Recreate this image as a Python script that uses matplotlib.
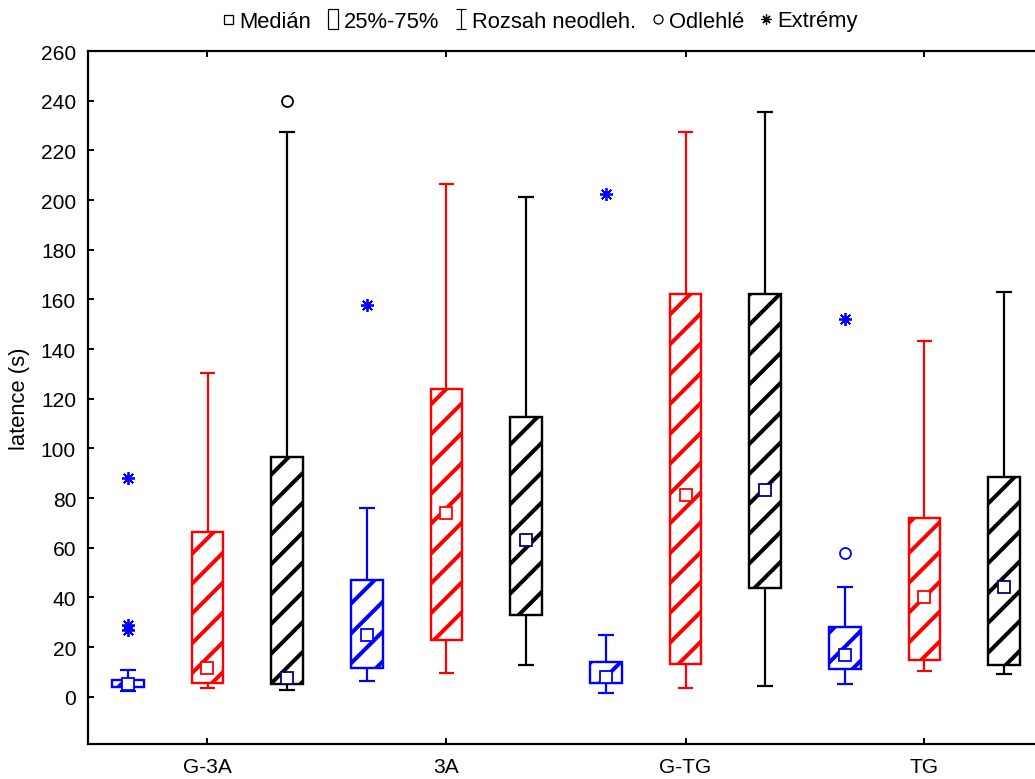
import matplotlib
matplotlib.use("Agg")
import matplotlib.pyplot as plt
from matplotlib.patches import Rectangle
from matplotlib.lines import Line2D
from matplotlib.path import Path

# ---------------- data ----------------
groups = ["G-3A", "3A", "G-TG", "TG"]
series_colors = ["#0000FF", "#FF0000", "#000000"]
median_edge = ["#0000FF", "#FF0000", "#000080"]

# per box (12 boxes: group x series)
q1 = [3.8, 5.4, 5.1, 11.4, 23.0, 32.9, 5.5, 13.4, 43.8, 11.2, 14.9, 12.8]
q3 = [6.8, 66.5, 96.4, 47.1, 123.9, 112.6, 14.1, 162.1, 162.1, 28.1, 72.0, 88.6]
med = [5.1, 11.4, 7.4, 25.0, 73.9, 63.2, 7.8, 81.4, 83.2, 16.8, 40.0, 44.1]
whislo = [2.4, 3.4, 2.8, 6.3, 9.4, 12.9, 1.6, 3.6, 4.4, 5.1, 10.5, 9.0]
whishi = [10.8, 130.2, 227.5, 76.1, 206.4, 201.1, 25.0, 227.4, 235.5, 44.3, 143.2, 163.0]
outliers = [[], [], [240.0], [], [], [], [], [], [], [58.0], [], []]
extremes = [[88.2, 28.8, 27.0], [], [], [157.7], [], [], [202.4], [], [], [152.3], [], []]

yticks = list(range(0, 261, 20))

# ---------------- figure ----------------
DPI = 179
px = 72.0 / DPI  # points per pixel
plt.rcParams["font.family"] = ["Liberation Sans", "DejaVu Sans"]
plt.rcParams["hatch.linewidth"] = 4.0 * px
fig = plt.figure(figsize=(1035 / DPI, 780 / DPI), dpi=DPI)
ax = fig.add_axes([88 / 1035, 1 - 745 / 780, (1044 - 88) / 1035, (745 - 52) / 780])

box_w = 0.40
cap_w = 0.20

for i in range(12):
    s = i % 3
    c = series_colors[s]
    lw = 2.2 * px
    # whiskers
    ax.vlines(i, q3[i], whishi[i], color=c, lw=lw, zorder=2)
    ax.vlines(i, whislo[i], q1[i], color=c, lw=lw, zorder=2)
    ax.hlines([whislo[i], whishi[i]], i - cap_w / 2, i + cap_w / 2, color=c, lw=lw, zorder=2)
    # box
    rect = Rectangle((i - box_w / 2, q1[i]), box_w, q3[i] - q1[i],
                     facecolor="white", edgecolor=c, hatch="//", lw=2.4 * px, zorder=3)
    ax.add_patch(rect)
    # median
    ax.plot([i], [med[i]], marker="s", ms=12 * px, mfc="white",
            mec=median_edge[s], mew=1.8 * px, ls="none", zorder=4)
    # outliers
    if outliers[i]:
        ax.plot([i] * len(outliers[i]), outliers[i], marker="o", ms=11 * px, mfc="white",
                mec=c, mew=1.8 * px, ls="none", zorder=4)
    if extremes[i]:
        ax.plot([i] * len(extremes[i]), extremes[i], marker=(8, 2, 0), ms=13 * px,
                color=c, mew=1.8 * px, ls="none", zorder=4)

ax.set_xlim(-0.5, 11.5)
ax.set_ylim(-19, 260)
ax.set_yticks(yticks)
ax.set_xticks([1, 4, 7, 10])
ax.set_xticklabels(groups)
ax.tick_params(axis="both", direction="in", length=6 * px, width=2 * px,
               labelsize=21 * px, top=True, right=True)
ax.tick_params(axis="y", pad=12 * px)
ax.tick_params(axis="x", pad=13 * px)
for sp in ax.spines.values():
    sp.set_linewidth(2.2 * px)
ax.set_ylabel("latence (s)", fontsize=22 * px, labelpad=11 * px)

# ---------------- legend ----------------
ibeam = Path([(-0.5, 1), (0.5, 1), (0, 1), (0, -1), (-0.5, -1), (0.5, -1)],
             [Path.MOVETO, Path.LINETO, Path.MOVETO, Path.LINETO, Path.MOVETO, Path.LINETO])
tallrect = Path([(-0.5, -1), (0.5, -1), (0.5, 1), (-0.5, 1), (-0.5, -1)],
                [Path.MOVETO, Path.LINETO, Path.LINETO, Path.LINETO, Path.CLOSEPOLY])
handles = [
    Line2D([], [], marker="s", ms=9 * px, mfc="white", mec="black", mew=1.3 * px, ls="none"),
    Line2D([], [], marker=tallrect, ms=20 * px, mfc="white", mec="black", mew=1.2 * px, ls="none"),
    Line2D([], [], marker=ibeam, ms=20 * px, color="black", mew=1.2 * px, ls="none"),
    Line2D([], [], marker="o", ms=9 * px, mfc="white", mec="black", mew=1.3 * px, ls="none"),
    Line2D([], [], marker=(8, 2, 0), ms=10 * px, color="black", mew=1.2 * px, ls="none"),
]
labels = ["Medián", "25%-75%", "Rozsah neodleh.", "Odlehlé", "Extrémy"]
fig.legend(handles, labels, loc="center", bbox_to_anchor=(540 / 1035, 1 - 22 / 780),
           ncol=5, frameon=False, fontsize=22 * px, handlelength=0.55,
           handletextpad=0.25, columnspacing=0.7, borderpad=0)

fig.savefig("out.png", dpi=DPI)
